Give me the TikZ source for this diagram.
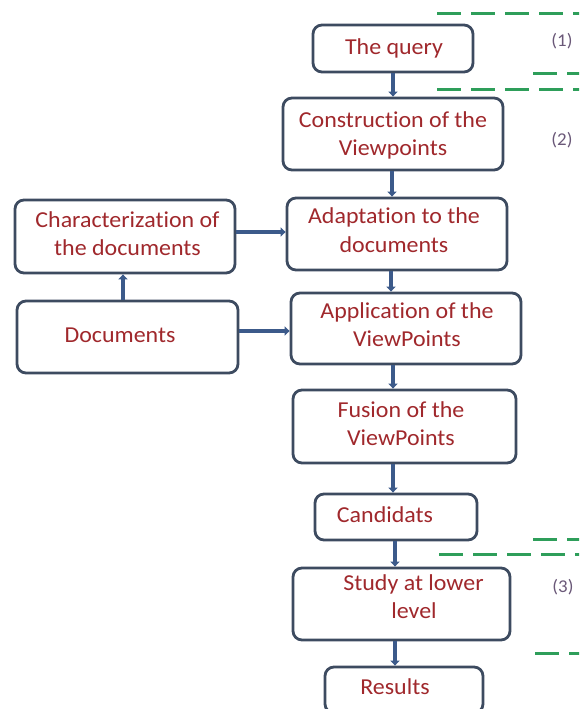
\documentclass[tikz,border=0pt]{standalone}
\usepackage{fontspec}
\setmainfont[FakeStretch=1.05,Ligatures=CommonOff]{Carlito}
\usetikzlibrary{arrows.meta}
\definecolor{boxline}{HTML}{3D4B60}
\definecolor{arrowc}{HTML}{3C5A8A}
\definecolor{txtred}{HTML}{A0282C}
\definecolor{lblc}{HTML}{6A5878}
\definecolor{dashg}{HTML}{2E9E5A}
\begin{document}
\begin{tikzpicture}[x=1pt,y=-1pt,
 box/.style={draw=boxline,line width=2.8pt,rounded corners=9pt,fill=white,inner sep=0pt},
 txt/.style={anchor=base,text=txtred,font=\fontsize{22.8}{28}\selectfont,inner sep=0pt},
 lbl/.style={anchor=base,text=lblc,font=\fontsize{18}{20}\selectfont,inner sep=0pt},
 arr/.style={draw=arrowc,line width=4.5pt,-{Triangle[width=9pt,length=5pt]}},
 grdash/.style={draw=dashg,line width=3pt,dash pattern=on 24pt off 10pt}]
\useasboundingbox (0,0) rectangle (579,709);
\clip (0,0) rectangle (579,709);
% green dashed lines
\draw[grdash] (437,14) -- (585,14);
\draw[grdash] (533,73) -- (585,73);
\draw[grdash] (437,89) -- (585,89);
\draw[grdash] (533,539) -- (585,539);
\draw[grdash] (439,554) -- (585,554);
\draw[grdash] (535,653) -- (585,653);
% labels
\node[lbl] (l1) at (562,47) {(1)};
\node[lbl] (l2) at (562,145) {(2)};
\node[lbl] (l3) at (563,592) {(3)};
% boxes
\node[box,minimum width=160pt,minimum height=47pt] (q) at (393,48.5) {};
\node[box,minimum width=220pt,minimum height=72pt] (c) at (393,134) {};
\node[box,minimum width=220pt,minimum height=72pt] (a) at (397,234) {};
\node[box,minimum width=230pt,minimum height=71pt] (ap) at (406,328.5) {};
\node[box,minimum width=223pt,minimum height=73pt] (f) at (404.5,426.5) {};
\node[box,minimum width=162pt,minimum height=46pt] (cand) at (396,517) {};
\node[box,minimum width=217pt,minimum height=72pt] (s) at (401.5,604) {};
\node[box,minimum width=158pt,minimum height=46pt] (r) at (404,690) {};
\node[box,minimum width=220pt,minimum height=73pt] (ch) at (125,236.5) {};
\node[box,minimum width=221pt,minimum height=72pt] (d) at (127.5,337) {};
% texts
\node[txt] (tq) at (394,55) {The query};
\node[txt] (tc1) at (393,127) {Construction of the};
\node[txt] (tc2) at (393,155) {Viewpoints};
\node[txt] (ta1) at (394,223) {Adaptation to the};
\node[txt] (ta2) at (394,252) {documents};
\node[txt] (tch1) at (127.5,227) {Characterization of};
\node[txt] (tch2) at (127.5,255) {the documents};
\node[txt] (td) at (120,342) {Documents};
\node[txt] (tap1) at (407,318) {Application of the};
\node[txt] (tap2) at (407,346) {ViewPoints};
\node[txt] (tf1) at (401,417) {Fusion of the};
\node[txt] (tf2) at (401,445) {ViewPoints};
\node[txt] (tcand) at (385,522) {Candidats};
\node[txt] (ts1) at (413.5,590) {Study at lower};
\node[txt] (ts2) at (414,618) {level};
\node[txt] (tr) at (395,694) {Results};
% arrow guide coordinates
\coordinate (x1) at (393,0);
\coordinate (x2) at (392,0);
\coordinate (x3) at (391,0);
\coordinate (x4) at (393,0);
\coordinate (x5) at (393,0);
\coordinate (x6) at (395,0);
\coordinate (x7) at (395,0);
\coordinate (xC) at (123,0);
\coordinate (yA) at (0,232);
\coordinate (yB) at (0,331);
% arrows
\draw[arr] (q.south -| x1) -- (c.north -| x1);
\draw[arr] (c.south -| x2) -- (a.north -| x2);
\draw[arr] (a.south -| x3) -- (ap.north -| x3);
\draw[arr] (ap.south -| x4) -- (f.north -| x4);
\draw[arr] (f.south -| x5) -- (cand.north -| x5);
\draw[arr] (cand.south -| x6) -- (s.north -| x6);
\draw[arr] (s.south -| x7) -- (r.north -| x7);
\draw[arr] (ch.east |- yA) -- (a.west |- yA);
\draw[arr] (d.east |- yB) -- (ap.west |- yB);
\draw[arr] (d.north -| xC) -- (ch.south -| xC);
\end{tikzpicture}
\end{document}
